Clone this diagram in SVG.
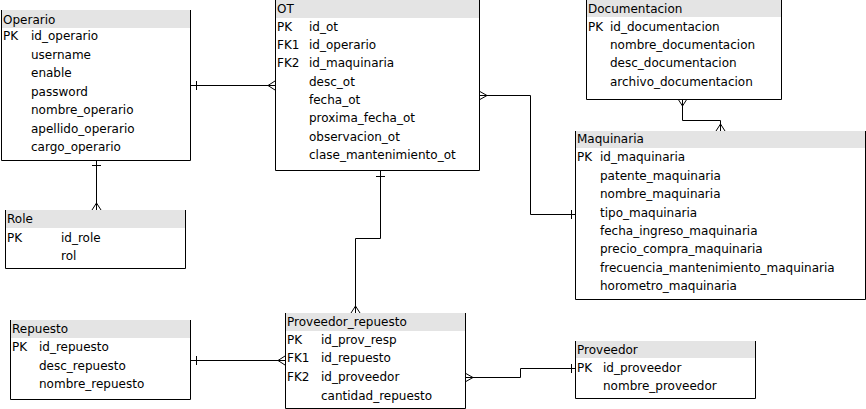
<svg xmlns="http://www.w3.org/2000/svg" width="866" height="409" viewBox="0 0 866 409">
<style>
text{font-family:"DejaVu Sans",Verdana,sans-serif;font-size:12px;fill:#000}
.hd{fill:#e4e4e4;stroke:none}
.bd{fill:none;stroke:#000;stroke-width:1}
.cn{fill:none;stroke:#000;stroke-width:1}
</style>
<rect width="866" height="409" fill="#fff"/>
<g id="operario">
<rect class="hd" x="1" y="10" width="189" height="18"/>
<path class="bd" d="M1.5,10 V160.5 H190.5 V10"/>
<text x="3" y="24">Operario</text>
<text x="3" y="40">PK</text>
<text x="31" y="40">id_operario</text>
<text x="31" y="59">username</text>
<text x="31" y="77">enable</text>
<text x="31" y="96">password</text>
<text x="31" y="114">nombre_operario</text>
<text x="31" y="133">apellido_operario</text>
<text x="31" y="151">cargo_operario</text>
</g>
<g id="ot">
<rect class="hd" x="275" y="0" width="204" height="18"/>
<path class="bd" d="M275.5,0 V170.5 H479.5 V0"/>
<text x="277" y="13">OT</text>
<text x="277" y="31">PK</text>
<text x="277" y="49">FK1</text>
<text x="277" y="67">FK2</text>
<text x="309" y="31">id_ot</text>
<text x="309" y="49">id_operario</text>
<text x="309" y="67">id_maquinaria</text>
<text x="309" y="86">desc_ot</text>
<text x="309" y="104">fecha_ot</text>
<text x="309" y="122">proxima_fecha_ot</text>
<text x="309" y="141">observacion_ot</text>
<text x="309" y="159">clase_mantenimiento_ot</text>
</g>
<g id="documentacion">
<rect class="hd" x="586" y="0" width="195" height="17"/>
<path class="bd" d="M586.5,0 V99.5 H781.5 V0"/>
<text x="588" y="13">Documentacion</text>
<text x="588" y="31">PK</text>
<text x="610" y="31">id_documentacion</text>
<text x="610" y="49">nombre_documentacion</text>
<text x="610" y="67">desc_documentacion</text>
<text x="610" y="86">archivo_documentacion</text>
</g>
<g id="maquinaria">
<rect class="hd" x="575" y="131" width="290" height="17"/>
<path class="bd" d="M575.5,131 V299.5 H865.5 V131"/>
<text x="577" y="143">Maquinaria</text>
<text x="577" y="161">PK</text>
<text x="600" y="161">id_maquinaria</text>
<text x="600" y="179.5">patente_maquinaria</text>
<text x="600" y="198">nombre_maquinaria</text>
<text x="600" y="216.5">tipo_maquinaria</text>
<text x="600" y="235">fecha_ingreso_maquinaria</text>
<text x="600" y="253">precio_compra_maquinaria</text>
<text x="600" y="271.5">frecuencia_mantenimiento_maquinaria</text>
<text x="600" y="290">horometro_maquinaria</text>
</g>
<g id="role">
<rect class="hd" x="5" y="210" width="180" height="18"/>
<path class="bd" d="M5.5,210 V268.5 H185.5 V210"/>
<text x="7" y="223">Role</text>
<text x="7" y="242">PK</text>
<text x="61" y="242">id_role</text>
<text x="61" y="260">rol</text>
</g>
<g id="repuesto">
<rect class="hd" x="10" y="320" width="180" height="18"/>
<path class="bd" d="M10.5,320 V399.5 H190.5 V320"/>
<text x="12" y="333">Repuesto</text>
<text x="12" y="351">PK</text>
<text x="39" y="351">id_repuesto</text>
<text x="39" y="370">desc_repuesto</text>
<text x="39" y="388">nombre_repuesto</text>
</g>
<g id="proveedor_repuesto">
<rect class="hd" x="285" y="313" width="180" height="18"/>
<path class="bd" d="M285.5,313 V408.5 H465.5 V313"/>
<text x="287" y="326">Proveedor_repuesto</text>
<text x="287" y="344">PK</text>
<text x="287" y="362">FK1</text>
<text x="287" y="381">FK2</text>
<text x="321" y="344">id_prov_resp</text>
<text x="321" y="362">id_repuesto</text>
<text x="321" y="381">id_proveedor</text>
<text x="321" y="400">cantidad_repuesto</text>
</g>
<g id="proveedor">
<rect class="hd" x="575" y="341" width="180" height="17"/>
<path class="bd" d="M575.5,341 V398.5 H755.5 V341"/>
<text x="577" y="354">Proveedor</text>
<text x="577" y="372">PK</text>
<text x="603" y="372">id_proveedor</text>
<text x="603" y="390">nombre_proveedor</text>
</g>
<g id="connectors">
<path class="cn" d="M190,85.5 H275 M196.5,81 V90 M275,81 L268,85.5 L275,90"/>
<path class="cn" d="M96.5,160 V210 M92,165.5 H101 M92,210 L96.5,203 L101,210"/>
<path class="cn" d="M479,95.5 H530.5 V214.5 H575 M479,91 L487,95.5 L479,100 M571.5,210 V219"/>
<path class="cn" d="M682.5,99 V120.5 H720.5 V131 M678,99 L682.5,106 L687,99 M716,131 L720.5,124 L725,131"/>
<path class="cn" d="M380.5,170 V238.5 H355.5 V313 M376,176.5 H385 M351,313 L355.5,306 L360,313"/>
<path class="cn" d="M190,360.5 H285 M196.5,356 V365 M285,356 L278,360.5 L285,365"/>
<path class="cn" d="M465,377.5 H520.5 V368.5 H575 M465,373 L473,377.5 L465,382 M571.5,364 V373"/>
</g>
</svg>
